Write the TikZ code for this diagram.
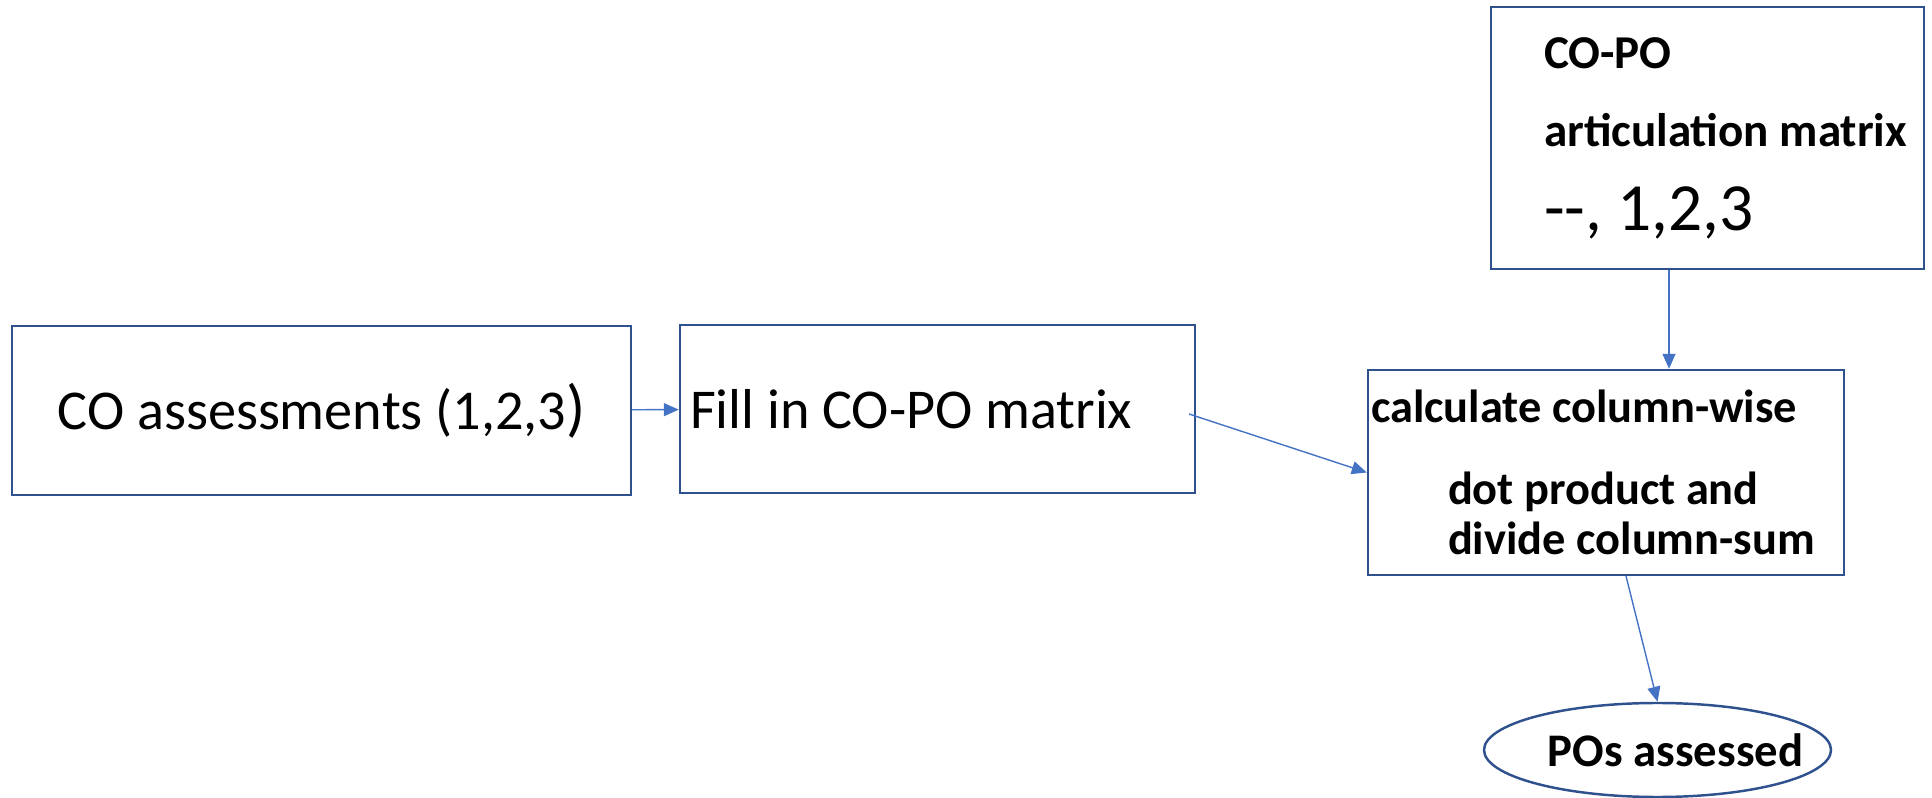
\documentclass[tikz,border=0pt]{standalone}
\usepackage{fontspec}
\setmainfont{Carlito}
\usepackage{xcolor}
\usetikzlibrary{arrows.meta,shapes.geometric}
\definecolor{boxblue}{HTML}{2F528F}
\definecolor{arrowblue}{HTML}{4472C4}
\tikzset{
	stage/.style = {
			draw            = boxblue,
			line width      = 0.7pt,
			inner sep       = 0pt,
		},
	link/.style = {
			draw            = arrowblue,
			line width      = 0.4pt,
			-{Triangle[length=0.15cm, width=0.13cm]},
		}
}

\begin{document}
\begin{tikzpicture}
		\useasboundingbox (0,0) rectangle (19.32,7.97);

		\node[stage, minimum width=6.19cm, minimum height=1.69cm, font=\fontsize{16}{19}\selectfont] at (3.215,3.865) (coassess) {CO assessments (1,2,3{\fontsize{18}{20}\selectfont)}};

		\node[stage, inner xsep=0.1cm, text width=4.95cm, align=flush left, minimum height=1.68cm, font=\fontsize{16}{19}\selectfont] at (9.375,3.88) (fillmatrix) {Fill in CO-PO matrix};

		\node[stage, text width=4.33cm, align=flush left, minimum height=2.62cm, font=\bfseries\fontsize{13.4}{22.2}\selectfont] at (17.075,6.59) (articmatrix) {\hspace*{0.53cm}CO-PO\\ \hspace*{0.53cm}articulation matrix\\[1.7pt] \hspace*{0.53cm}{\mdseries\fontsize{19.2}{22.2}\selectfont -{}-, 1,2,3}};

		\node[stage, inner xsep=0.03cm, text width=4.70cm, align=flush left, minimum height=2.05cm, font=\bfseries\fontsize{13.2}{14.2}\selectfont] at (16.06,3.245) (calcsum) {calculate column-wise\\[9pt] \hspace*{0.77cm}dot product and\\ \hspace*{0.77cm}divide column-sum};

		\node[stage, ellipse, inner xsep=-0.35cm, minimum width=3.47cm, minimum height=0.94cm, font=\bfseries\fontsize{13.3}{16}\selectfont] at (16.575,0.47) (posassessed) {\hspace*{0.36cm}POs assessed};

		\coordinate (fillout) at (11.89,3.83);

		\draw[link] (coassess) -- (fillmatrix);
		\draw[link] (fillout) -- (calcsum.west);
		\draw[link] ([xshift=-0.385cm]articmatrix.south) -- ([xshift=0.63cm]calcsum.north);
		\draw[link] ([xshift=0.2cm]calcsum.south) -- (posassessed.north);
	\end{tikzpicture}
\end{document}
